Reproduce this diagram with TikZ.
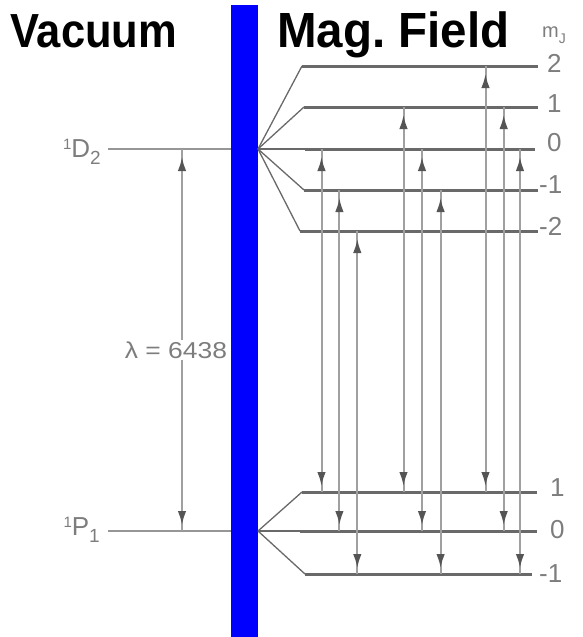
\documentclass[tikz,border=0pt]{standalone}
\usepackage{fontspec}
\setmainfont{Liberation Sans}
\usetikzlibrary{arrows.meta}
\definecolor{levc}{RGB}{105,105,105}
\definecolor{trc}{RGB}{160,160,160}
\definecolor{arrc}{RGB}{85,85,85}
\definecolor{labc}{RGB}{125,125,125}
\definecolor{barblue}{RGB}{0,0,255}
\begin{document}
\begin{tikzpicture}[x=1pt,y=-1pt,
  lev/.style={line width=3pt, draw=levc},
  fan/.style={line width=1.3pt, draw=levc},
  trans/.style={line width=2pt, draw=trc},
  ahead/.tip={Latex[length=14pt,width=8.5pt,color=arrc]},
  tips/.style={trans, ahead-ahead, shorten <=8pt, shorten >=6pt},
  lab/.style={text=labc, font=\fontsize{26}{26}\selectfont, inner sep=0pt},
  title/.style={inner sep=0pt, anchor=base west}]
\useasboundingbox (0,0) rectangle (582,637);
% titles
\node[title, font=\fontsize{43.5}{43.5}\selectfont\bfseries, yscale=1.1] (vac) at (10,47) {Vacuum};
\node[title, font=\fontsize{47.5}{47.5}\selectfont\bfseries, yscale=1.04] (mag) at (277,47) {Mag.\ Field};
% blue bar
\fill[barblue] (231,5) rectangle (258,637);
% left levels
\coordinate (dl) at (108,149);
\coordinate (dr) at (231,149);
\coordinate (pl) at (108,531);
\coordinate (pr) at (231,531);
\draw[line width=1.5pt, draw=levc!70] (dl) -- (dr);
\draw[line width=1.5pt, draw=levc!70] (pl) -- (pr);
\node[lab, anchor=east] (d2) at (101,152) {\raisebox{8pt}{\fontsize{15}{15}\selectfont 1}D\raisebox{-7pt}{\fontsize{19}{19}\selectfont 2}};
\node[lab, anchor=east] (p1) at (100,530) {\raisebox{8pt}{\fontsize{15}{15}\selectfont 1}P\raisebox{-7pt}{\fontsize{19}{19}\selectfont 1}};
% lambda arrow
\coordinate (la) at (182,149);
\coordinate (lb) at (182,531);
\node[lab, font=\fontsize{23}{23}\selectfont, xscale=1.15, inner sep=1pt] (lam) at (176,350) {λ = 6438};
\coordinate (lamt) at (la |- lam.north);
\coordinate (lamb) at (la |- lam.south);
\draw[trans] (la) -- (lamt);
\draw[trans] (lamb) -- (lb);
\draw[trans, -ahead, shorten >=8pt] (lamt) -- (la);
\draw[trans, -ahead, shorten >=6pt] (lamb) -- (lb);
% upper split
\coordinate (us) at (258,149);
\coordinate (u2a) at (302,66);  \coordinate (u2b) at (538,66);
\coordinate (u1a) at (304,107); \coordinate (u1b) at (538,107);
\coordinate (u0a) at (305,149); \coordinate (u0b) at (535,149);
\coordinate (um1a) at (304,190); \coordinate (um1b) at (538,190);
\coordinate (um2a) at (300,231); \coordinate (um2b) at (538,231);
\foreach \n in {u2a,u1a,u0a,um1a,um2a} \draw[fan] (us) -- (\n);
\foreach \n in {u2,u1,u0,um1,um2} \draw[lev] (\n a) -- (\n b);
% lower split
\coordinate (ls) at (258,531);
\coordinate (l1a) at (302,492);  \coordinate (l1b) at (537,492);
\coordinate (l0a) at (300,531);  \coordinate (l0b) at (537,531);
\coordinate (lm1a) at (305,574); \coordinate (lm1b) at (532,574);
\foreach \n in {l1a,l0a,lm1a} \draw[fan] (ls) -- (\n);
\foreach \n in {l1,l0,lm1} \draw[lev] (\n a) -- (\n b);
% labels right
\node[lab, font=\fontsize{20}{20}\selectfont, anchor=base west] (mj) at (542,37) {m\raisebox{-6pt}{\fontsize{14}{14}\selectfont J}};
\node[lab, anchor=west] (t2) at (547,63) {2};
\node[lab, anchor=west] (t1) at (547,104) {1};
\node[lab, anchor=west] (t0) at (547,143) {0};
\node[lab, anchor=west] (tm1) at (539,185) {-1};
\node[lab, anchor=west] (tm2) at (539,226) {-2};
\node[lab, anchor=west] (b1) at (550,488) {1};
\node[lab, anchor=west] (b0) at (550,530) {0};
\node[lab, anchor=west] (bm1) at (539,574) {-1};
% transitions
\foreach \x/\u/\l [count=\i] in {321.5/149/492, 339.4/190/531, 357.3/231/574,
   403.5/107/492, 422/149/531, 440.6/190/574,
   485.5/66/492, 503.7/107/531, 520/149/574} {
  \coordinate (tu\i) at (\x,\u);
  \coordinate (tl\i) at (\x,\l);
  \draw[trans] (tu\i) -- (tl\i);
  \draw[tips] (tu\i) -- (tl\i);
}
\end{tikzpicture}
\end{document}
